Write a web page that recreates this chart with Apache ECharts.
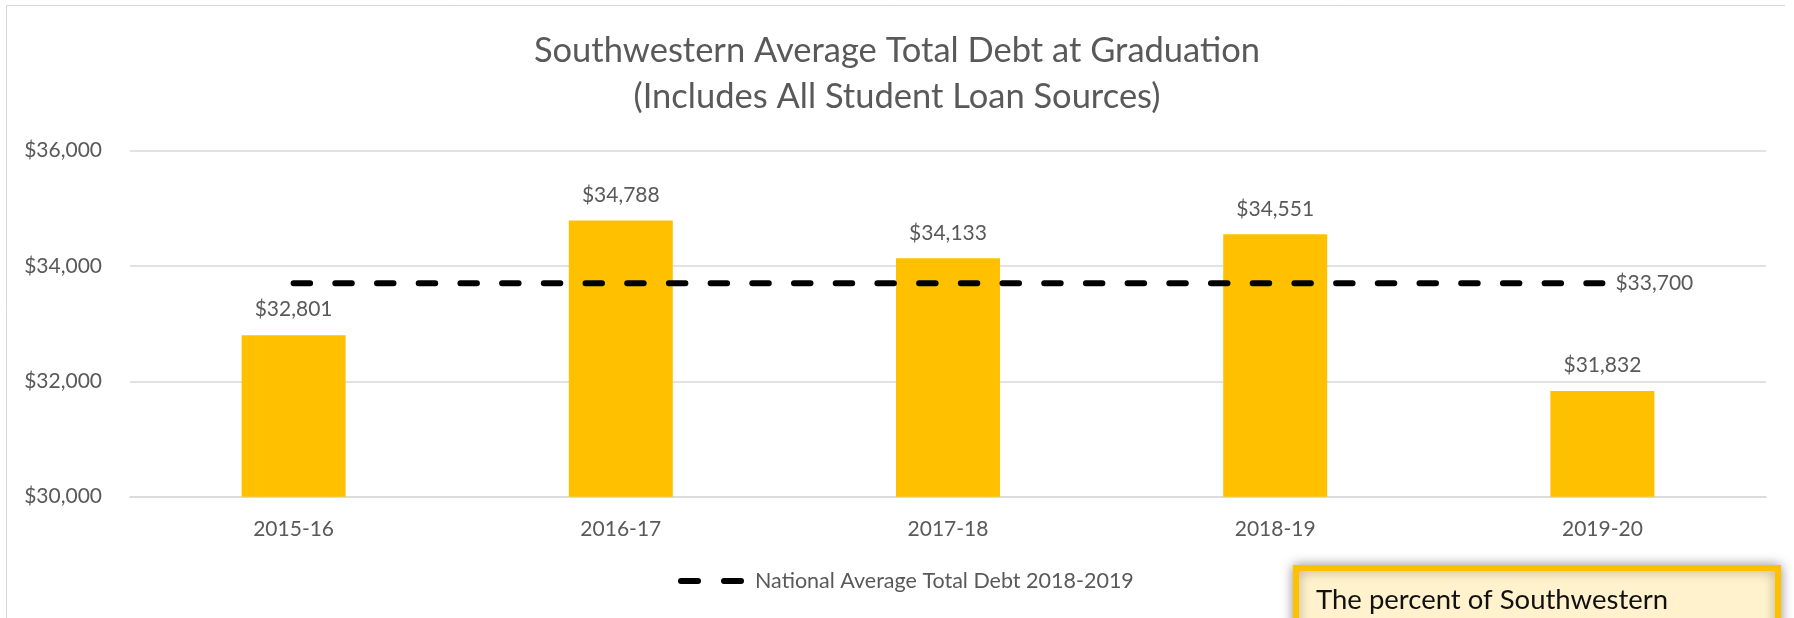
<!DOCTYPE html>
<html>
<head>
<meta charset="utf-8">
<script src="https://cdn.jsdelivr.net/npm/echarts@6/dist/echarts.min.js"></script>
<style>
  html, body { margin: 0; padding: 0; background: #ffffff; }
  #chart { width: 1794px; height: 618px; }
</style>
</head>
<body>
<div id="chart"></div>
<script>
// ---- data ----
const categories = ['2015-16', '2016-17', '2017-18', '2018-19', '2019-20'];
const averageDebt = [32801, 34788, 34133, 34551, 31832];
const nationalAverage = [33700, 33700, 33700, 33700, 33700];
const nationalLabel = 'National Average Total Debt 2018-2019';
const titleLines = ['Southwestern Average Total Debt at Graduation', '(Includes All Student Loan Sources)'];
const noteText = 'The percent of Southwestern';
const yMin = 30000, yMax = 36000, yStep = 2000;

const FONT = 'Lato';
const GREY = '#595959';
const money = v => '$' + Math.round(v).toLocaleString('en-US');

const chart = echarts.init(document.getElementById('chart'), null, { renderer: 'canvas' });

chart.setOption({
  backgroundColor: '#ffffff',
  animation: false,
  textStyle: { fontFamily: FONT },
  title: {
    text: titleLines.join('\n'),
    left: 'center',
    top: 28,
    padding: 0,
    textStyle: { fontFamily: FONT, fontSize: 34.5, fontWeight: 'normal', color: GREY, lineHeight: 46 }
  },
  grid: { left: 130, right: 28, top: 150.7, bottom: 121.3, containLabel: false },
  legend: {
    show: true,
    left: 673,
    top: 565,
    itemWidth: 66,
    itemHeight: 6,
    data: [{
      name: nationalLabel,
      icon: 'path://M3,0 H20 A3,3 0 0 1 20,6 H3 A3,3 0 0 1 3,0 Z M46,0 H63 A3,3 0 0 1 63,6 H46 A3,3 0 0 1 46,0 Z',
      itemStyle: { color: '#000000' }
    }],
    textStyle: { fontFamily: FONT, fontSize: 21.5, color: GREY, padding: [0, 0, 0, 6] }
  },
  xAxis: {
    type: 'category',
    data: categories,
    axisLine: { show: true, lineStyle: { color: '#D9D9D9', width: 1.5 } },
    axisTick: { show: false },
    axisLabel: { color: GREY, fontFamily: FONT, fontSize: 21, margin: 22 }
  },
  yAxis: {
    type: 'value',
    min: yMin,
    max: yMax,
    interval: yStep,
    axisLine: { show: false },
    axisTick: { show: false },
    splitLine: { lineStyle: { color: '#D9D9D9', width: 1.5 } },
    axisLabel: { color: GREY, fontFamily: FONT, fontSize: 21, margin: 28, formatter: v => money(v) }
  },
  series: [
    {
      name: 'Average Total Debt',
      type: 'bar',
      data: averageDebt,
      barWidth: 104,
      itemStyle: { color: '#FFC000' },
      label: {
        show: true,
        position: 'top',
        distance: 15,
        color: GREY,
        fontFamily: FONT,
        fontSize: 21,
        formatter: p => money(p.value)
      },
      z: 2
    },
    {
      name: nationalLabel,
      type: 'line',
      data: nationalAverage,
      showSymbol: false,
      symbol: 'none',
      lineStyle: { color: '#000000', width: 6, type: [16.5, 25.2], cap: 'round' },
      endLabel: {
        show: true,
        distance: 13,
        color: GREY,
        fontFamily: FONT,
        fontSize: 21,
        formatter: p => money(p.value)
      },
      z: 3
    }
  ],
  graphic: [
    { type: 'line', shape: { x1: 6.5, y1: 5.5, x2: 1785, y2: 5.5 }, style: { stroke: '#D9D9D9', lineWidth: 1 }, silent: true },
    { type: 'line', shape: { x1: 6.5, y1: 5.5, x2: 6.5, y2: 618 }, style: { stroke: '#D9D9D9', lineWidth: 1 }, silent: true },
    {
      type: 'group',
      silent: true,
      children: [
        {
          type: 'rect',
          shape: { x: 1296, y: 568, width: 482, height: 120 },
          style: { fill: '#FFF2CC', stroke: '#FFC000', lineWidth: 6, shadowBlur: 12, shadowColor: 'rgba(0,0,0,0.35)' }
        },
        {
          type: 'text',
          x: 1316,
          y: 600,
          style: { text: noteText, fill: '#111111', fontFamily: FONT, fontSize: 27.5, verticalAlign: 'middle', align: 'left' }
        }
      ]
    }
  ]
});
</script>
</body>
</html>
